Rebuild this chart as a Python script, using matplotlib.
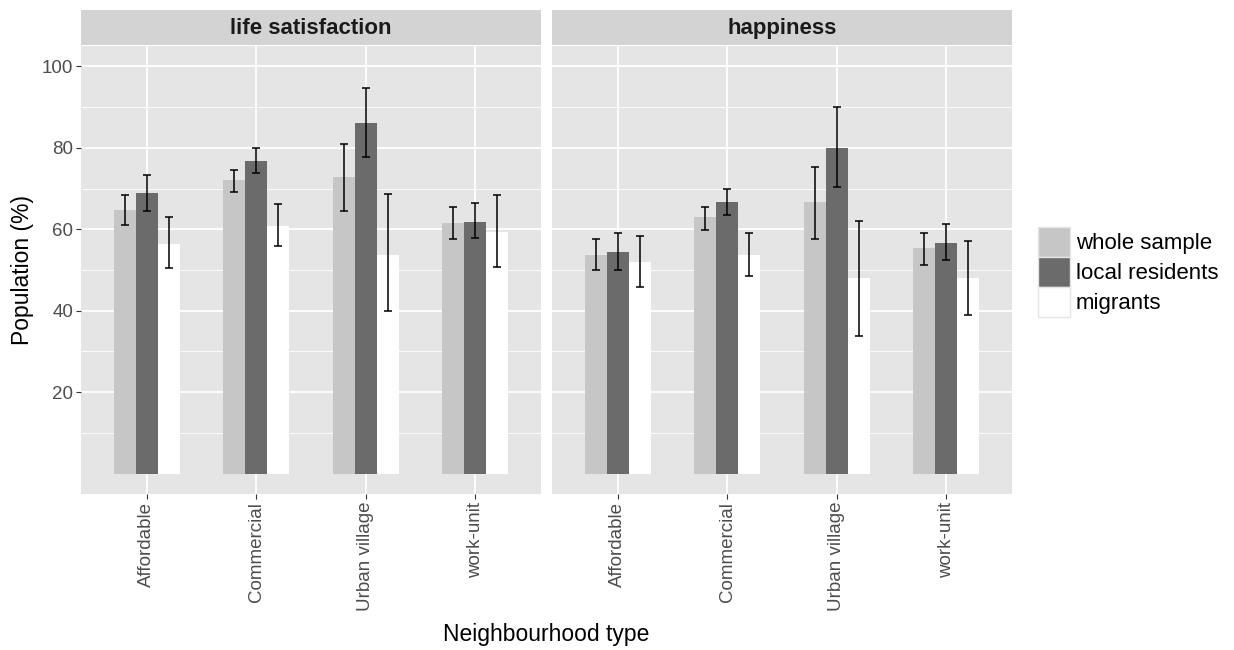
import numpy as np
import matplotlib
matplotlib.use("Agg")
import matplotlib.pyplot as plt
from matplotlib.patches import Patch

plt.rcParams['font.family'] = ['Liberation Sans', 'DejaVu Sans']

# ==============================
# DATA
# ==============================

categories = ["Affordable", "Commercial", "Urban village", "work-unit"]
groups = ["whole sample", "local residents", "migrants"]
panels = ["life satisfaction", "happiness"]

# life satisfaction
ls_whole = [64.8, 72.0, 72.8, 61.6]
ls_whole_lo = [61.0, 69.2, 64.4, 57.5]
ls_whole_hi = [68.4, 74.6, 81.0, 65.5]
ls_local = [68.8, 76.7, 86.1, 61.8]
ls_local_lo = [64.5, 73.8, 77.7, 57.8]
ls_local_hi = [73.4, 80.0, 94.8, 66.4]
ls_migr = [56.5, 60.8, 53.8, 59.3]
ls_migr_lo = [50.5, 55.9, 40.0, 50.8]
ls_migr_hi = [63.1, 66.2, 68.6, 68.5]

# happiness
hp_whole = [53.8, 62.9, 66.6, 55.5]
hp_whole_lo = [50.1, 59.8, 57.7, 51.3]
hp_whole_hi = [57.5, 65.5, 75.4, 59.2]
hp_local = [54.4, 66.6, 80.0, 56.7]
hp_local_lo = [50.1, 63.5, 70.5, 52.4]
hp_local_hi = [59.2, 69.9, 89.9, 61.4]
hp_migr = [51.9, 53.8, 48.0, 48.0]
hp_migr_lo = [45.8, 48.5, 33.8, 39.0]
hp_migr_hi = [58.4, 59.2, 62.1, 57.1]

# ==============================
# STYLE
# ==============================

FILLS = ["#c6c6c6", "#6b6b6b", "#ffffff"]
PANEL_BG = "#e5e5e5"
STRIP_BG = "#d3d3d3"
TEXT_GREY = "#4d4d4d"

W, H = 1234, 650
fig = plt.figure(figsize=(W / 100, H / 100), dpi=100)


def frac(x0, y0, x1, y1):
    # pixel box (top-left origin) -> figure fraction
    return [x0 / W, (H - y1) / H, (x1 - x0) / W, (y1 - y0) / H]


panel_px = [(81, 46, 541, 494), (552, 46, 1012, 494)]

data = [
    [(ls_whole, ls_whole_lo, ls_whole_hi),
     (ls_local, ls_local_lo, ls_local_hi),
     (ls_migr, ls_migr_lo, ls_migr_hi)],
    [(hp_whole, hp_whole_lo, hp_whole_hi),
     (hp_local, hp_local_lo, hp_local_hi),
     (hp_migr, hp_migr_lo, hp_migr_hi)],
]

x = np.arange(len(categories))
bw = 0.2
offsets = [-bw, 0, bw]

for p, (x0, y0, x1, y1) in enumerate(panel_px):
    ax = fig.add_axes(frac(x0, y0, x1, y1))
    ax.set_facecolor(PANEL_BG)
    for s in ax.spines.values():
        s.set_visible(False)

    # grid
    for v in [10, 30, 50, 70, 90]:
        ax.axhline(v, color="white", lw=0.6, zorder=0)
    for v in [20, 40, 60, 80, 100]:
        ax.axhline(v, color="white", lw=1.3, zorder=0)
    for xi in x:
        ax.axvline(xi, color="white", lw=1.3, zorder=0)

    for g, (vals, lo, hi) in enumerate(data[p]):
        ax.bar(x + offsets[g], vals, width=bw, color=FILLS[g], zorder=2)
        vals = np.array(vals)
        yerr = [vals - np.array(lo), np.array(hi) - vals]
        ax.errorbar(x + offsets[g], vals, yerr=yerr, fmt="none",
                    ecolor="black", elinewidth=1.1, capsize=2.6,
                    capthick=1.1, zorder=3)

    ax.set_xlim(-0.6, 3.6)
    ax.set_ylim(-5, 105)
    ax.set_xticks(x)
    ax.set_xticklabels(categories, rotation=90)
    ax.set_yticks([20, 40, 60, 80, 100])
    ax.tick_params(axis="both", length=3.5, color="#333333", width=0.8,
                   labelsize=13.5, labelcolor=TEXT_GREY, pad=2)
    if p == 0:
        ax.set_ylabel("Population (%)", fontsize=16.5, labelpad=6)
    else:
        ax.tick_params(axis="y", left=False, labelleft=False)

    # facet strip
    sx = fig.add_axes(frac(x0, 10, x1, 45))
    sx.set_facecolor(STRIP_BG)
    sx.set_xticks([])
    sx.set_yticks([])
    for s in sx.spines.values():
        s.set_visible(False)
    sx.text(0.5, 0.48, panels[p], ha="center", va="center",
            fontsize=16, fontweight="bold", color="#1a1a1a",
            transform=sx.transAxes)

fig.text((81 + 1012) / 2 / W, 1 - 634 / H, "Neighbourhood type",
         ha="center", va="center", fontsize=16.5)

handles = [Patch(facecolor=c, edgecolor="#e5e5e5", lw=1) for c in FILLS]
fig.legend(handles, groups, loc="center left",
           bbox_to_anchor=(1029 / W, 1 - 272 / H), frameon=False,
           fontsize=16, handlelength=1.45, handleheight=1.72,
           handletextpad=0.25, labelspacing=0.0, borderaxespad=0)

fig.savefig("out.png", dpi=100)
